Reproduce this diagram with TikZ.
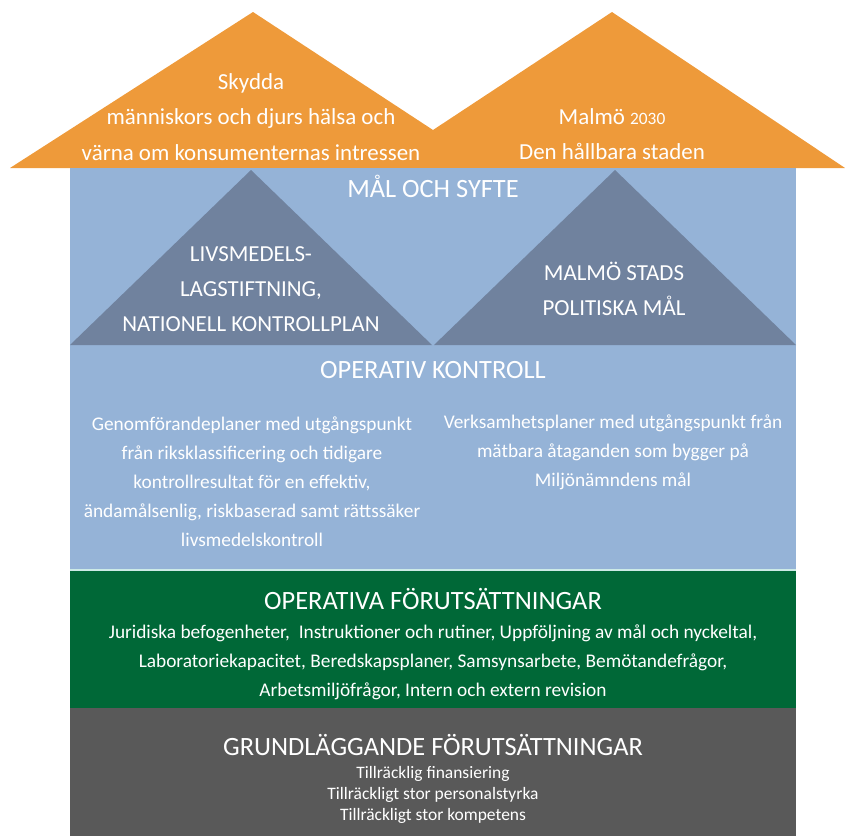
\documentclass[tikz,border=0pt]{standalone}
\usepackage{fontspec}
\setmainfont{Carlito}
\usepackage{tkz-euclide}
\definecolor{RoofClr}{RGB}{238,154,58}
\definecolor{WallClr}{RGB}{149,179,215}
\definecolor{GoalClr}{RGB}{112,130,158}
\definecolor{GreenClr}{RGB}{0,104,55}
\definecolor{BaseClr}{RGB}{89,89,89}
\definecolor{SeamClr}{RGB}{204,234,230}

\begin{document}
\begin{tikzpicture}[x=0.75pt,y=-0.75pt,
  lbl/.style={text=white,align=center,inner sep=0pt},
  head/.style={lbl,font=\fontsize{19.8}{24}\selectfont},
  big/.style={lbl,font=\fontsize{17.2}{26.4}\selectfont},
  body/.style={lbl,font=\fontsize{14.5}{21.75}\selectfont},
  small/.style={lbl,font=\fontsize{13.1}{15.75}\selectfont}]
\useasboundingbox (0,0) rectangle (845,836);

\tkzDefPoints{10/168/R1,253/12/R2,433/130/R3,612/12/R4,845/168/R5}
\tkzDefPoints{70/168/W1,796/570/W2,70/571/G1,796/708/G2,70/708/B1,796/836/B2}
\tkzDefPoints{70/345/L1,251/170/L2,432/345/L3,434/345/M1,615/170/M2,796/345/M3}

\tkzFillPolygon[RoofClr](R1,R2,R3,R4,R5)
\fill[WallClr] (W1) rectangle (W2);
\tkzFillPolygon[GoalClr](L1,L2,L3)
\tkzFillPolygon[GoalClr](M1,M2,M3)
\fill[GreenClr] (G1) rectangle (G2);
\fill[BaseClr] (B1) rectangle (B2);
\draw[SeamClr,line width=1.5pt] (70,570) -- (796,570);

\node[big] (skydda) at (251,117) {Skydda\\människors och djurs hälsa och\\värna om konsumenternas intressen};
\node[big] (malmo) at (612,134) {Malmö {\fontsize{13}{15}\selectfont 2030}\\Den hållbara staden};

\node[head] (syfte) at (433,186) {MÅL OCH SYFTE};
\node[big] (lag) at (251,289) {LIVSMEDELS-\\LAGSTIFTNING,\\NATIONELL KONTROLLPLAN};
\node[big] (polmal) at (614,289) {MALMÖ STADS\\POLITISKA MÅL};

\node[head] (opkontroll) at (433,370) {OPERATIV KONTROLL};
\node[body] (genomf) at (252,482) {Genomförandeplaner med utgångspunkt\\från riksklassificering och tidigare\\kontrollresultat för en effektiv,\\ändamålsenlig, riskbaserad samt rättssäker\\livsmedelskontroll};
\node[body] (verks) at (613,452) {Verksamhetsplaner med utgångspunkt från\\mätbara åtaganden som bygger på\\Miljönämndens mål};

\node[head] (opforut) at (433,599) {OPERATIVA FÖRUTSÄTTNINGAR};
\node[body] (juridik) at (433,662) {Juridiska befogenheter, \ Instruktioner och rutiner, Uppföljning av mål och nyckeltal,\\Laboratoriekapacitet, Beredskapsplaner, Samsynsarbete, Bemötandefrågor,\\Arbetsmiljöfrågor, Intern och extern revision};

\node[head] (grund) at (433,745) {GRUNDLÄGGANDE FÖRUTSÄTTNINGAR};
\node[small] (resurs) at (433,795) {Tillräcklig finansiering\\Tillräckligt stor personalstyrka\\Tillräckligt stor kompetens};

\end{tikzpicture}
\end{document}
